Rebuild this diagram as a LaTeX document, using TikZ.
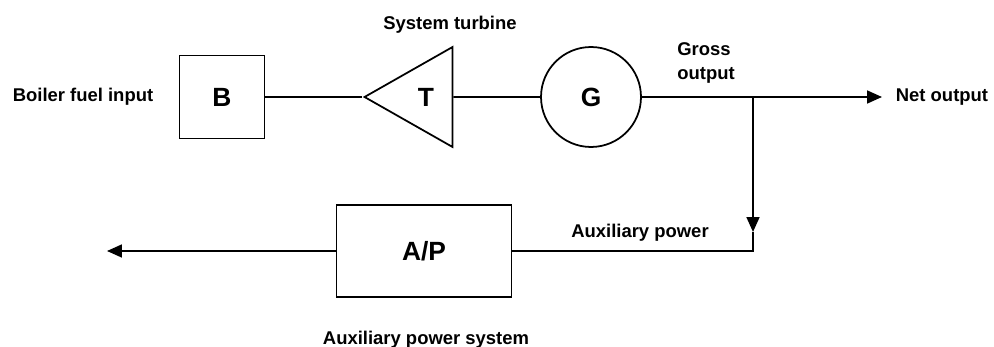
\documentclass[tikz,border=0pt]{standalone}
\usepackage{fontspec}
\setmainfont{Liberation Sans}
\usetikzlibrary{arrows.meta, shapes.geometric}

\begin{document}
\begin{tikzpicture}[x=0.02cm, y=-0.02cm, line width=1pt,
    >={Triangle[length=3mm, width=2.6mm]},
    lbl/.style={font=\bfseries\fontsize{10.5}{14}\selectfont, inner sep=0pt},
    unitbox/.style={draw, font=\bfseries\fontsize{15}{18}\selectfont, inner sep=0pt},
    turbine/.style={draw, isosceles triangle, isosceles triangle stretches, shape border rotate=180,
        minimum width=2cm, minimum height=1.76cm, inner sep=0pt, font=\bfseries\fontsize{15}{18}\selectfont}]
        \useasboundingbox (0,0) rectangle (994,347);

        \node[lbl] (fuel) at (83,97) {Boiler fuel input};
        \node[unitbox, minimum width=1.7cm, minimum height=1.66cm] (boiler) at (222,97) {B};
        \node[turbine] (turb) at (426,97) {T};
        \node[lbl] (turblbl) at (450,25) {System turbine};
        \node[unitbox, circle, minimum size=2cm] (gen) at (591,97) {G};
        \node[lbl, align=left] (gross) at (706,63) {Gross\\output};
        \node[lbl, anchor=west] (net) at (895,97) {Net output};
        \node[unitbox, minimum width=3.5cm, minimum height=1.84cm] (aux) at (424,251) {A/P};
        \node[lbl] (auxlbl) at (640,233) {Auxiliary power};
        \node[lbl] (auxsys) at (426,340) {Auxiliary power system};

        \coordinate (jn) at (753,97);
        \coordinate (netin) at (882,97);
        \coordinate (dn) at (753,232);
        \coordinate (out) at (107,251);

        \draw (boiler) -- (turb.apex);
        \draw (turb) -- (gen);
        \draw[->] (gen) -- (netin);
        \draw[->] (jn) -- (dn);
        \draw (dn) |- (aux.east);
        \draw[->] (aux) -- (out);
    \end{tikzpicture}
\end{document}
